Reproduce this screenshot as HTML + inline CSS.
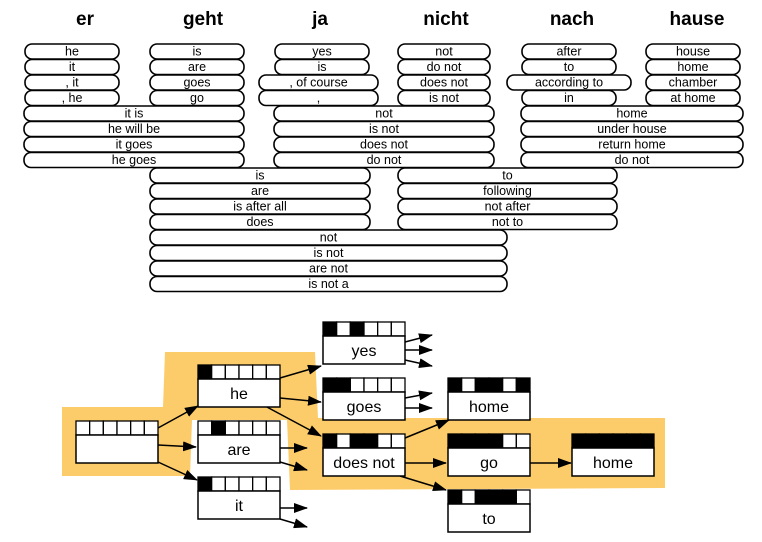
<!DOCTYPE html>
<html><head><meta charset="utf-8"><style>
html,body{margin:0;padding:0;background:#fff;}
svg{display:block;font-family:"Liberation Sans",Arial,sans-serif;}
</style></head><body>
<svg id="c" width="762" height="542" viewBox="0 0 762 542">
<defs><marker id="ah" markerWidth="14" markerHeight="10" refX="13" refY="5" orient="auto" markerUnits="userSpaceOnUse"><path d="M0,0 L14,5 L0,10 Z" fill="#000"/></marker></defs>
<polygon fill="#fdcc6a" points="62,407 163,407 165,352 315,352 318,418 665,418 665,488 290,490 287,420 192,420 190,476 62,476"/>
<g id="topg"></g><g id="botg"></g>
</svg>
<script>
const NS='http://www.w3.org/2000/svg';
const words=['er','geht','ja','nicht','nach','hause'];
const wordX=[85,203,320,446,572,697];
// phrase options: [label, x0, x1, row]
const phrases=[
['he',25,119,0],['it',25,119,1],[', it',25,119,2],[', he',25,119,3],
['is',150,244,0],['are',150,244,1],['goes',150,244,2],['go',150,244,3],
['yes',275,369,0],['is',275,369,1],[', of course',259,378,2],[',',259,378,3],
['not',398,490,0],['do not',398,490,1],['does not',398,490,2],['is not',398,490,3],
['after',522,616,0],['to',522,616,1],['according to',507,631,2],['in',522,616,3],
['house',646,740,0],['home',646,740,1],['chamber',646,740,2],['at home',646,740,3],
['it is',24,244,4],['he will be',24,244,5],['it goes',24,244,6],['he goes',24,244,7],
['not',274,494,4],['is not',274,494,5],['does not',274,494,6],['do not',274,494,7],
['home',521,743,4],['under house',521,743,5],['return home',521,743,6],['do not',521,743,7],
['is',150,370,8],['are',150,370,9],['is after all',150,370,10],['does',150,370,11],
['to',398,617,8],['following',398,617,9],['not after',398,617,10],['not to',398,617,11],
['not',150,507,12],['is not',150,507,13],['are not',150,507,14],['is not a',150,507,15]
];
const hyps=[
['',76,421,[0,0,0,0,0,0]],['he',198,365,[1,0,0,0,0,0]],['are',198,421,[0,1,0,0,0,0]],['it',198,477,[1,0,0,0,0,0]],
['yes',323,322,[1,0,1,0,0,0]],['goes',323,378,[1,1,0,0,0,0]],['does not',323,434,[1,0,1,1,0,0]],
['home',448,378,[1,0,1,1,0,1]],['go',448,434,[1,1,1,1,0,0]],['to',448,490,[1,0,1,1,1,0]],['home',572,434,[1,1,1,1,1,1]]
];
const arrows=[
[158,428,198,406],[158,445,196,447],[158,462,197,480],
[280,378,321,366],[280,398,321,402],[265,406,321,436],
[280,448,307,448],[280,462,307,470],[280,508,307,508],[280,519,307,527],
[405,342,432,335],[405,350,432,350],[405,360,432,366],
[405,398,432,393],[405,408,432,408],
[405,438,449,420],[405,463,446,463],[400,476,446,490],[530,463,571,463]
];
const topG=document.getElementById('topg');
const botG=document.getElementById('botg');
function mk(tag,attrs,parent){const e=document.createElementNS(NS,tag);for(const k in attrs)e.setAttribute(k,attrs[k]);parent.appendChild(e);return e;}
words.forEach((w,i)=>{const t=mk('text',{x:wordX[i],y:25,'text-anchor':'middle','font-size':19,'font-weight':'bold'},topG);t.textContent=w;

});
const rowY=r=>44+r*15.5;
phrases.forEach(p=>{const g=mk('g',{},topG);


mk('rect',{x:p[1],y:rowY(p[3]),width:p[2]-p[1],height:15,rx:7,ry:7,fill:'#fff',stroke:'#000','stroke-width':1.6},g);
const t=mk('text',{x:(p[1]+p[2])/2,y:rowY(p[3])+11.5,'text-anchor':'middle','font-size':12.5},g);t.textContent=p[0];});
arrows.forEach(a=>{const l=mk('line',{x1:a[0],y1:a[1],x2:a[2],y2:a[3],stroke:'#000','stroke-width':1.5,'marker-end':'url(#ah)'},botG);

});
hyps.forEach(h=>{const g=mk('g',{},botG);


const w=82,cw=w/6;
h[3].forEach((c,i)=>mk('rect',{x:h[1]+i*cw,y:h[2],width:cw,height:14,fill:c?'#000':'#fff',stroke:'#000','stroke-width':1.3},g));
mk('rect',{x:h[1],y:h[2]+14,width:w,height:28,fill:'#fff',stroke:'#000','stroke-width':1.5},g);
const t=mk('text',{x:h[1]+w/2,y:h[2]+34,'text-anchor':'middle','font-size':16},g);t.textContent=h[0];});
</script>
</body></html>
